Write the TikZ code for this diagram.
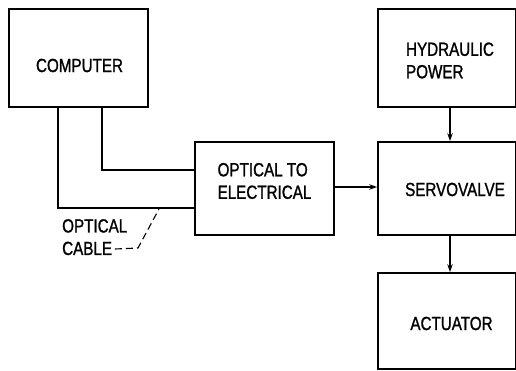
\documentclass[tikz,border=0pt]{standalone}
\usepackage{fontspec}
\newfontfamily\labfont[FakeStretch=0.8,FakeBold=1.2]{Liberation Sans}
\usetikzlibrary{arrows.meta}
\begin{document}
\begin{tikzpicture}[x=1pt,y=-1pt,
  box/.style={draw,line width=1.7pt,minimum width=#1,inner sep=0pt},
  txt/.style={font=\labfont\fontsize{19}{22.5}\selectfont,align=left,inner sep=0pt},
  wire/.style={line width=1.5pt},
  arr/.style={line width=1.5pt,-{Stealth[length=8pt,width=5.5pt]}},
  lead/.style={line width=1.1pt,dash pattern=on 7pt off 4pt}]
\useasboundingbox (0,0) rectangle (516,371);
% boxes
\node[box=139pt,minimum height=98pt] (comp) at (78.5,58) {};
\node[txt] (compT) at (79.5,65.5) {COMPUTER};
\node[box=139pt,minimum height=93pt] (opt) at (264.5,188.5) {};
\node[txt] (optT) at (264.5,181) {OPTICAL TO\\ELECTRICAL};
\node[box=138pt,minimum height=98pt] (hyd) at (447,58) {};
\node[txt] (hydT) at (450,60.5) {HYDRAULIC\\POWER};
\node[box=138pt,minimum height=93pt] (servo) at (447,188.5) {};
\node[txt] (servoT) at (455,189.5) {SERVOVALVE};
\node[box=138pt,minimum height=96pt] (act) at (447,321) {};
\node[txt] (actT) at (451.5,323.5) {ACTUATOR};
% optical cable label
\node[txt,anchor=north west] (cab) at (62,219) {OPTICAL\\CABLE};
% wires
\coordinate (w1) at (58,208);
\coordinate (w2) at (102,170);
\draw[wire] (comp.south -| w1) -- (w1) -- (w1 -| opt.west);
\draw[wire] (comp.south -| w2) -- (w2) -- (w2 -| opt.west);
% arrows
\coordinate (ay) at (0,187);
\draw[arr] (opt.east |- ay) -- (servo.west |- ay);
\coordinate (ax) at (450,0);
\draw[arr] (hyd.south -| ax) -- (servo.north -| ax);
\draw[arr] (servo.south -| ax) -- (act.north -| ax);
% leader
\coordinate (l0) at (115,249);
\coordinate (l1) at (138,248);
\coordinate (l2) at (159,209);
\draw[lead] (l0) -- (l1) -- (l2);
\end{tikzpicture}
\end{document}
